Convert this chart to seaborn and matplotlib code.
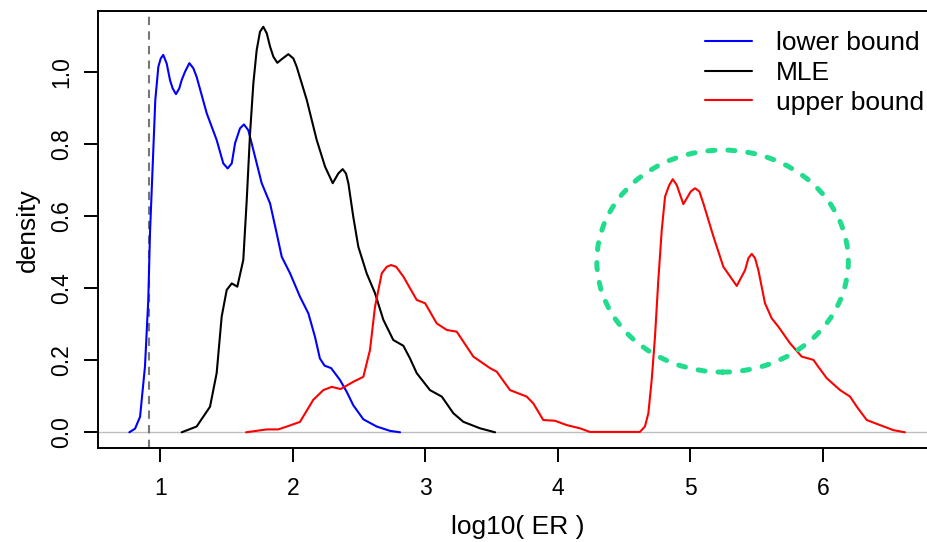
import numpy as np
import pandas as pd
import matplotlib
matplotlib.use("Agg")
import matplotlib.pyplot as plt
from matplotlib.patches import Ellipse
import seaborn as sns

# ---- data ----
lower_x = [0.767, 0.81, 0.848, 0.885, 0.910, 0.923, 0.943, 0.963, 0.986, 1.004, 1.023, 1.049,
           1.074, 1.094, 1.119, 1.144, 1.162, 1.187, 1.220, 1.25, 1.275, 1.351, 1.426, 1.476,
           1.509, 1.54, 1.565, 1.602, 1.632, 1.665, 1.703, 1.766, 1.829,
           1.879, 1.917, 1.980, 2.055, 2.118, 2.168, 2.205, 2.24, 2.29, 2.357, 2.408,
           2.457, 2.533, 2.634, 2.734, 2.81]
lower_y = [0.0, 0.01, 0.043, 0.182, 0.367, 0.553, 0.737, 0.922, 1.014, 1.037, 1.047, 1.023,
           0.977, 0.954, 0.938, 0.954, 0.977, 1.0, 1.024, 1.01, 0.986, 0.885, 0.811, 0.746,
           0.732, 0.746, 0.802, 0.843, 0.854, 0.838, 0.783, 0.691, 0.635,
           0.552, 0.487, 0.441, 0.376, 0.330, 0.265, 0.205, 0.185, 0.178, 0.145, 0.112,
           0.075, 0.036, 0.016, 0.004, 0.0]

mle_x = [1.162, 1.275, 1.376, 1.426, 1.464, 1.502, 1.540, 1.582, 1.627, 1.653, 1.678, 1.703,
         1.728, 1.753, 1.778, 1.804, 1.829, 1.854, 1.884, 1.917, 1.967, 2.005, 2.030, 2.106,
         2.181, 2.244, 2.302, 2.344, 2.377, 2.402, 2.420,
         2.457, 2.495, 2.558, 2.621, 2.684, 2.759, 2.835, 2.885, 2.936, 3.036, 3.125, 3.212,
         3.288, 3.414, 3.527]
mle_y = [0.0, 0.016, 0.071, 0.164, 0.321, 0.395, 0.413, 0.404, 0.478, 0.644, 0.829, 0.968,
         1.060, 1.111, 1.125, 1.107, 1.070, 1.042, 1.025, 1.035, 1.049, 1.037, 1.014, 0.922,
         0.811, 0.737, 0.691, 0.718, 0.730, 0.718, 0.691,
         0.598, 0.515, 0.441, 0.386, 0.312, 0.256, 0.240, 0.205, 0.164, 0.117, 0.099, 0.053,
         0.029, 0.011, 0.0]

upper_x = [1.648, 1.804, 1.891, 1.980, 2.055, 2.155, 2.231, 2.294, 2.362, 2.457, 2.533, 2.583,
           2.621, 2.672, 2.709, 2.742, 2.781, 2.835, 2.936, 2.999, 3.087, 3.162, 3.238, 3.363,
           3.489, 3.540, 3.640, 3.766, 3.816, 3.891, 3.979, 4.068, 4.168, 4.243, 4.620, 4.658,
           4.684, 4.709, 4.734, 4.759, 4.785, 4.810, 4.842, 4.868, 4.898, 4.948, 5.004, 5.036,
           5.069, 5.099, 5.175, 5.250, 5.351, 5.414, 5.439, 5.464, 5.489, 5.514, 5.564, 5.615,
           5.665, 5.753, 5.841, 5.929, 5.966, 6.030, 6.131, 6.206, 6.257, 6.332, 6.432, 6.533,
           6.62]
upper_y = [0.0, 0.008, 0.008, 0.019, 0.029, 0.090, 0.117, 0.126, 0.120, 0.140, 0.154, 0.228,
           0.348, 0.441, 0.459, 0.464, 0.459, 0.432, 0.367, 0.358, 0.302, 0.284, 0.279, 0.210,
           0.178, 0.168, 0.117, 0.099, 0.080, 0.034, 0.032, 0.020, 0.011, 0.001, 0.001, 0.016,
           0.053, 0.145, 0.265, 0.422, 0.561, 0.654, 0.686, 0.702, 0.686, 0.633, 0.668, 0.677,
           0.668, 0.635, 0.543, 0.459, 0.406, 0.450, 0.483, 0.495, 0.483, 0.450, 0.358, 0.316,
           0.293, 0.247, 0.210, 0.201, 0.182, 0.150, 0.117, 0.099, 0.071, 0.034, 0.020, 0.006,
           0.0]

series_names = ["lower bound", "MLE", "upper bound"]
series_colors = ["#0000FF", "#000000", "#FF0000"]
x_ticks = [1, 2, 3, 4, 5, 6]
y_ticks = [0.0, 0.2, 0.4, 0.6, 0.8, 1.0]
y_tick_labels = ["0.0", "0.2", "0.4", "0.6", "0.8", "1.0"]
vline_x = 0.915
ellipse_center = (5.244, 0.475)
ellipse_size = (1.898, 0.616)

df = pd.concat([
    pd.DataFrame({"x": lower_x, "y": lower_y, "series": series_names[0]}),
    pd.DataFrame({"x": mle_x, "y": mle_y, "series": series_names[1]}),
    pd.DataFrame({"x": upper_x, "y": upper_y, "series": series_names[2]}),
], ignore_index=True)

sns.set_theme(style="white")
plt.rcParams["font.family"] = ["Liberation Sans", "DejaVu Sans"]
plt.rcParams["text.color"] = "black"
plt.rcParams["axes.labelcolor"] = "black"

W, H = 928, 542
fig = plt.figure(figsize=(W / 100, H / 100), dpi=100)
ax_l, ax_r, ax_t, ax_b = 98, 933, 11, 448.3
ax = fig.add_axes([ax_l / W, 1 - ax_b / H, (ax_r - ax_l) / W, (ax_b - ax_t) / H])

ax.axhline(0, color="#BEBEBE", lw=1.0, zorder=1)
ax.axvline(vline_x, color="#777777", lw=1.5, ls=(0, (4, 3)), zorder=1)

sns.lineplot(data=df, x="x", y="y", hue="series", hue_order=series_names,
             palette=series_colors, sort=False, estimator=None, linewidth=1.5,
             ax=ax, zorder=3)
for ln in ax.get_lines():
    ln.set_solid_joinstyle("round")

ell = Ellipse(ellipse_center, ellipse_size[0], ellipse_size[1], fill=False,
              edgecolor="#20DC8C", lw=3.6, zorder=4)
ell.set_linestyle((0, (1.4, 2.6)))
ell.set_capstyle("round")
ax.add_patch(ell)

ax.set_xlim(0.5306, 6.832)
ax.set_ylim(-0.0444, 1.1687)
ax.set_xticks(x_ticks)
ax.set_xticklabels([str(v) for v in x_ticks])
ax.set_yticks(y_ticks)
ax.set_yticklabels(y_tick_labels, rotation=90, va="center")

for s in ["left", "bottom", "top", "right"]:
    ax.spines[s].set_color("black")
    ax.spines[s].set_linewidth(1.4)
    ax.spines[s].set_visible(True)

ax.tick_params(axis="both", which="major", direction="out", length=10, width=1.4,
               color="black", labelsize=16.5, labelcolor="black",
               bottom=True, left=True, top=False, right=False)
ax.tick_params(axis="x", pad=11)
ax.tick_params(axis="y", pad=8)
ax.grid(False)

ax.set_xlabel("log10( ER )", fontsize=19, color="black")
ax.set_ylabel("density", fontsize=19, color="black")
ax.xaxis.set_label_coords((517.3 - ax_l) / (ax_r - ax_l), (ax_b - 515) / (ax_b - ax_t))
ax.yaxis.set_label_coords((40 - ax_l) / (ax_r - ax_l), 0.5)

leg = ax.legend(loc="upper left", bbox_to_anchor=(705 / W, 1 - 31 / H),
                bbox_transform=fig.transFigure, frameon=False, fontsize=19,
                handlelength=1.8, handletextpad=0.9, labelspacing=0.22, borderpad=0,
                borderaxespad=0)
for t in leg.get_texts():
    t.set_color("black")

fig.savefig("out.png", dpi=100)
